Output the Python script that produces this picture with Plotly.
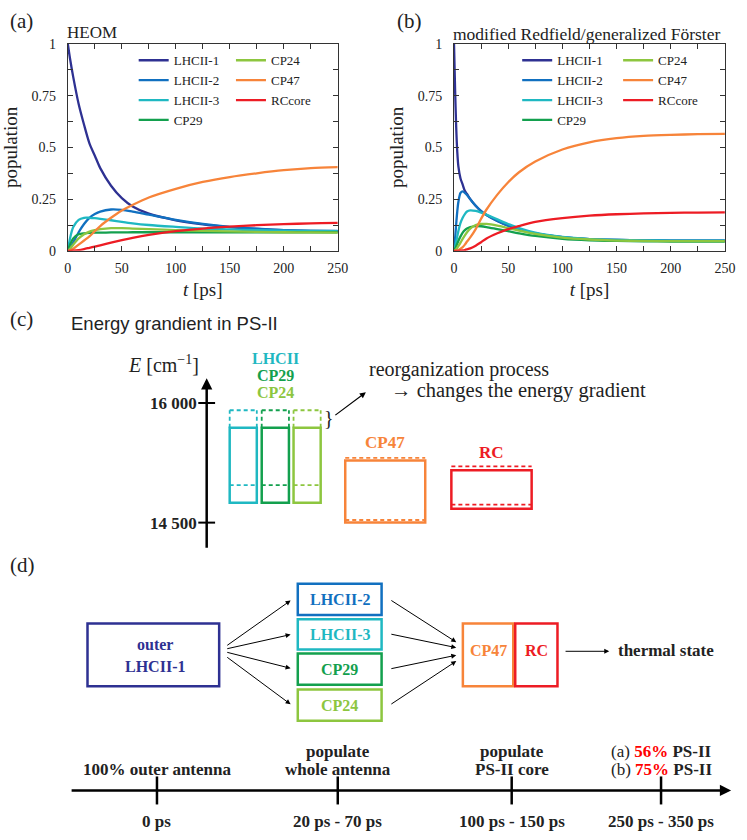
import plotly.graph_objects as go

W, H = 747, 840
SERIF = "Liberation Serif"
SANS = "Liberation Sans"

# ---- data: populations (a) HEOM and (b) modified Redfield / generalized Foerster
SERIES = ["LHCII-1", "LHCII-2", "LHCII-3", "CP29", "CP24", "CP47", "RCcore"]
COLORS = ["#2e3192", "#1170c0", "#1fb8c2", "#13a04e", "#8dc63f", "#f7843a", "#ed1c24"]

T_A = [0, 2, 5, 10, 15, 20, 25, 30, 40, 50, 60, 75, 100, 125, 150, 175, 200, 225, 250]
POP_A = {
    "LHCII-1": [1.0, 0.93, 0.84, 0.71, 0.61, 0.52, 0.46, 0.40, 0.315, 0.255, 0.215, 0.18, 0.148, 0.128, 0.115, 0.106, 0.10, 0.097, 0.095],
    "LHCII-2": [0, 0.01, 0.04, 0.09, 0.13, 0.16, 0.178, 0.19, 0.20, 0.198, 0.19, 0.175, 0.15, 0.13, 0.116, 0.107, 0.10, 0.097, 0.096],
    "LHCII-3": [0, 0.06, 0.115, 0.15, 0.16, 0.16, 0.158, 0.155, 0.148, 0.14, 0.133, 0.125, 0.116, 0.108, 0.104, 0.10, 0.098, 0.096, 0.095],
    "CP29":    [0, 0.03, 0.06, 0.08, 0.085, 0.087, 0.088, 0.088, 0.089, 0.089, 0.09, 0.09, 0.09, 0.09, 0.09, 0.09, 0.09, 0.09, 0.09],
    "CP24":    [0, 0.01, 0.03, 0.06, 0.08, 0.093, 0.10, 0.105, 0.11, 0.11, 0.108, 0.105, 0.10, 0.097, 0.094, 0.092, 0.09, 0.089, 0.088],
    "CP47":    [0, 0.002, 0.01, 0.03, 0.05, 0.07, 0.095, 0.12, 0.16, 0.195, 0.222, 0.258, 0.30, 0.333, 0.357, 0.375, 0.39, 0.40, 0.405],
    "RCcore":  [0, 0.0, 0.001, 0.004, 0.009, 0.015, 0.021, 0.027, 0.04, 0.052, 0.063, 0.077, 0.095, 0.108, 0.117, 0.124, 0.129, 0.133, 0.135],
}

T_B = [0, 1, 2, 3, 4, 6, 8, 10, 12, 15, 20, 25, 30, 40, 50, 60, 75, 100, 125, 150, 175, 200, 225, 250]
POP_B = {
    "LHCII-1": [1.0, 0.78, 0.60, 0.48, 0.41, 0.35, 0.32, 0.29, 0.275, 0.25, 0.218, 0.192, 0.173, 0.145, 0.122, 0.104, 0.085, 0.066, 0.057, 0.053, 0.051, 0.05, 0.05, 0.05],
    "LHCII-2": [0, 0.06, 0.13, 0.19, 0.235, 0.28, 0.288, 0.28, 0.27, 0.25, 0.218, 0.192, 0.173, 0.145, 0.122, 0.104, 0.085, 0.066, 0.057, 0.053, 0.051, 0.05, 0.05, 0.05],
    "LHCII-3": [0, 0.02, 0.045, 0.07, 0.095, 0.135, 0.16, 0.178, 0.19, 0.196, 0.193, 0.185, 0.175, 0.152, 0.13, 0.11, 0.088, 0.067, 0.057, 0.053, 0.051, 0.05, 0.05, 0.05],
    "CP29":    [0, 0.01, 0.022, 0.035, 0.048, 0.07, 0.088, 0.10, 0.108, 0.115, 0.12, 0.119, 0.115, 0.105, 0.095, 0.085, 0.072, 0.058, 0.051, 0.048, 0.046, 0.045, 0.045, 0.045],
    "CP24":    [0, 0.003, 0.008, 0.015, 0.023, 0.04, 0.058, 0.075, 0.09, 0.108, 0.125, 0.13, 0.13, 0.122, 0.11, 0.098, 0.082, 0.064, 0.055, 0.05, 0.048, 0.047, 0.047, 0.047],
    "CP47":    [0, 0, 0.001, 0.002, 0.004, 0.01, 0.018, 0.03, 0.045, 0.065, 0.105, 0.155, 0.2, 0.272, 0.332, 0.38, 0.432, 0.49, 0.525, 0.545, 0.556, 0.561, 0.564, 0.566],
    "RCcore":  [0, 0, 0, 0, 0, 0.001, 0.002, 0.004, 0.007, 0.012, 0.025, 0.042, 0.06, 0.085, 0.105, 0.12, 0.14, 0.158, 0.17, 0.177, 0.181, 0.184, 0.185, 0.186],
}

# ---- data: energy gradient (c), cm^-1
E_NAMES = ["LHCII", "CP29", "CP24", "CP47", "RC"]
E_COLORS = ["#1fb8c2", "#13a04e", "#8dc63f", "#f7843a", "#ed1c24"]
E_LOW = [14750, 14750, 14750, 14500, 14675]
E_HIGH = [15690, 15690, 15690, 15280, 15157]
E_SHIFT_HIGH = [15910, 15910, 15910, 15313, 15206]
E_SHIFT_LOW = [14970, 14970, 14970, 14533, 14725]
E_TICKS = [14500, 16000]
E_TICKTEXT = ["14 500", "16 000"]

# ---- data: scheme (d)
D_OUTER = ["outer", "LHCII-1"]
D_MID = ["LHCII-2", "LHCII-3", "CP29", "CP24"]
D_MID_COLORS = ["#1170c0", "#1fb8c2", "#13a04e", "#8dc63f"]
D_CORE = ["CP47", "RC"]
D_CORE_COLORS = ["#f7843a", "#ed1c24"]
STAGE_TOP = [["", "100% outer antenna"], ["populate", "whole antenna"],
             ["populate", "PS-II core"], None]
STAGE_TIMES = ["0 ps", "20 ps - 70 ps", "100 ps - 150 ps", "250 ps - 350 ps"]
SHARE_LABELS = ["(a)", "(b)"]
SHARE_PCT = [56, 75]


def fx(px):
    return px / W


def fy(py):
    return 1 - py / H


fig = go.Figure()

# population curves
for i, name in enumerate(SERIES):
    fig.add_trace(go.Scatter(
        x=T_A, y=POP_A[name], name=name, mode="lines",
        line=dict(color=COLORS[i], width=2.3, shape="spline", smoothing=0.8),
        legend="legend" if i < 4 else "legend2", xaxis="x", yaxis="y"))
for i, name in enumerate(SERIES):
    fig.add_trace(go.Scatter(
        x=T_B, y=POP_B[name], name=name, mode="lines",
        line=dict(color=COLORS[i], width=2.3, shape="spline", smoothing=0.8),
        legend="legend3" if i < 4 else "legend4", xaxis="x2", yaxis="y2"))

# energy axis tick crosses
AXIS_X = 207.3
fig.add_trace(go.Scatter(
    x=[AXIS_X] * len(E_TICKS), y=E_TICKS, mode="markers", showlegend=False,
    marker=dict(symbol="line-ew", size=12, line=dict(color="black", width=2)),
    xaxis="x3", yaxis="y3", hoverinfo="skip"))

# timeline ticks
TL_Y = 797.7
TL_X = [156.7, 340.7, 517.7, 669.7]
fig.add_trace(go.Scatter(
    x=TL_X, y=[TL_Y] * len(TL_X), mode="markers", showlegend=False,
    marker=dict(symbol="line-ns", size=20, line=dict(color="black", width=2.5)),
    xaxis="x4", yaxis="y4", hoverinfo="skip"))

shapes = []
ann = []


def text(x, y, s, size=16, color="#222", xanchor="center", family=SERIF):
    ann.append(dict(x=x, y=y, xref="x4", yref="y4", text=s, showarrow=False,
                    xanchor=xanchor, yanchor="middle",
                    font=dict(family=family, size=size, color=color)))


def arrow(x0, y0, x1, y1, width=1.0, head=2, size=1.0):
    ann.append(dict(x=x1, y=y1, ax=x0, ay=y0, xref="x4", yref="y4",
                    axref="x4", ayref="y4", text="", showarrow=True,
                    arrowhead=head, arrowsize=size, arrowwidth=width,
                    arrowcolor="black"))


# ---- panels (a), (b) texts
text(5, 14, "(a)", 21, xanchor="left")
text(399, 14, "(b)", 21, xanchor="left")
text(63, 26, "HEOM", 17, xanchor="left")
text(456, 27, "modified Redfield/generalized Förster", 17.5, xanchor="left")

# ---- panel (c)
text(5, 318, "(c)", 21, xanchor="left")
text(66.7, 322, "Energy grandient in PS-II", 18.5, xanchor="left", family=SANS)
text(201.7, 363, "<i>E</i> [cm<sup>−1</sup>]", 20, xanchor="right")
arrow(AXIS_X, 552, AXIS_X, 378, width=2.5, head=2, size=0.9)

E_COLS = [(230.7, 258.3), (263.3, 291.0), (295.7, 323.3), (348.3, 429.7), (456.3, 538.0)]
for i, name in enumerate(E_NAMES):
    x0, x1 = E_COLS[i]
    c = E_COLORS[i]
    shapes.append(dict(type="rect", xref="x3", yref="y3", x0=x0, x1=x1,
                       y0=E_LOW[i], y1=E_HIGH[i], line=dict(color=c, width=2.5)))
    dash = dict(color=c, width=1.8, dash="4px,3px")
    shapes.append(dict(type="line", xref="x3", yref="y3", x0=x0, x1=x1,
                       y0=E_SHIFT_HIGH[i], y1=E_SHIFT_HIGH[i], line=dash))
    shapes.append(dict(type="line", xref="x3", yref="y3", x0=x0, x1=x1,
                       y0=E_SHIFT_LOW[i], y1=E_SHIFT_LOW[i], line=dash))
    if i < 3:
        for xx in (x0, x1):
            shapes.append(dict(type="line", xref="x3", yref="y3", x0=xx, x1=xx,
                               y0=E_HIGH[i], y1=E_SHIFT_HIGH[i], line=dash))
for i, yy in enumerate([358.3, 375.7, 392.3]):
    text(277.7, yy, "<b>%s</b>" % E_NAMES[i], 16, E_COLORS[i])
text(389, 443.3, "<b>CP47</b>", 17, E_COLORS[3])
text(497, 454, "<b>RC</b>", 17, E_COLORS[4])
text(331.7, 418.3, "}", 20, "#222")
arrow(336.7, 416.7, 369.3, 392.3, width=1.2, head=2, size=1.0)
text(370, 369, "reorganization process", 20, xanchor="left")
text(392.7, 390, "→ changes the energy gradient", 20.5, xanchor="left")

# ---- panel (d)
text(5, 568, "(d)", 21, xanchor="left")
shapes.append(dict(type="rect", xref="x4", yref="y4", x0=86, x1=220, y0=627.7,
                   y1=691.7, line=dict(color=COLORS[0], width=2.5)))
text(154.3, 649, "<b>%s</b>" % D_OUTER[0], 16, COLORS[0])
text(154.3, 671, "<b>%s</b>" % D_OUTER[1], 16, COLORS[0])

MID_Y = [(587.3, 619.0), (623.3, 654.3), (658.3, 690.0), (695.0, 726.7)]
for i, name in enumerate(D_MID):
    y0, y1 = MID_Y[i]
    shapes.append(dict(type="rect", xref="x4", yref="y4", x0=300, x1=385.3,
                       y0=y0, y1=y1, line=dict(color=D_MID_COLORS[i], width=2.5)))
    text(342.7, (y0 + y1) / 2, "<b>%s</b>" % name, 16, D_MID_COLORS[i])

CORE_X = [(468.0, 519.3), (521.3, 564.3)]
for i, name in enumerate(D_CORE):
    x0, x1 = CORE_X[i]
    shapes.append(dict(type="rect", xref="x4", yref="y4", x0=x0, x1=x1,
                       y0=627.7, y1=691.7, line=dict(color=D_CORE_COLORS[i], width=2.5)))
    text((x0 + x1) / 2, 655, "<b>%s</b>" % name, 16, D_CORE_COLORS[i])

for (ys, ye) in [(651, 604.3), (653.7, 639), (656.7, 673.3), (661, 710)]:
    arrow(226.7, ys, 292.7, ye)
for (ys, ye) in [(603.3, 646.7), (638.3, 652.3), (674, 660), (710.7, 666)]:
    arrow(393.7, ys, 461.3, ye)
arrow(571, 656, 617, 656)
text(624.3, 655, "<b>thermal state</b>", 17, xanchor="left")

# timeline
arrow(68.3, TL_Y, 741, TL_Y, width=2.5, head=2, size=0.9)
for i, lines in enumerate(STAGE_TOP):
    if lines is None:
        lines = ["%s <b><span style='color:#ff0000'>%d%%</span> PS-II</b>"
                 % (SHARE_LABELS[k], SHARE_PCT[k]) for k in range(2)]
    else:
        lines = ["<b>%s</b>" % s if s else "" for s in lines]
    for k, s in enumerate(lines):
        if s:
            text(TL_X[i], 758.3 + 17.7 * k, s, 17)
    text(TL_X[i], 829, "<b>%s</b>" % STAGE_TIMES[i], 17)

fig.update_layout(shapes=shapes, annotations=ann)

# ---- axes
ax_common = dict(showline=True, linecolor="#333", linewidth=1, mirror="ticks",
                 ticks="inside", ticklen=5, tickcolor="#333", showgrid=False,
                 zeroline=False, tickfont=dict(family=SERIF, size=14, color="#222"))
xa = dict(ax_common, range=[0, 250], tickvals=[0, 50, 100, 150, 200, 250],
          ticklabelstandoff=4,
          minor=dict(ticks="inside", ticklen=5, dtick=25, tickcolor="#333"),
          title=dict(text="<i>t</i> [ps]", font=dict(family=SERIF, size=19, color="#222"),
                     standoff=8))
ya = dict(ax_common, range=[0, 1], tickvals=[0, 0.25, 0.5, 0.75, 1],
          ticktext=["0", "0.25", "0.5", "0.75", "1"], ticklabelstandoff=8,
          minor=dict(ticks="inside", ticklen=5, dtick=0.125, tickcolor="#333"),
          title=dict(text="population", font=dict(family=SERIF, size=19, color="#222"),
                     standoff=9))

Y_DOM = [fy(248.3), fy(37.7)]


def energy_at(py):
    return 16000 - (py - 403.3) * 1500 / (525.0 - 403.3)


leg = dict(yanchor="top", xanchor="left", y=fy(39), bgcolor="rgba(0,0,0,0)",
           font=dict(family=SERIF, size=13, color="#222"), tracegroupgap=0,
           itemwidth=30)

fig.update_layout(
    width=W, height=H, autosize=False,
    margin=dict(l=0, r=0, t=0, b=0),
    paper_bgcolor="white", plot_bgcolor="rgba(0,0,0,0)",
    font=dict(family=SERIF, color="#222"),
    xaxis=dict(xa, domain=[fx(66), fx(340.7)], anchor="y"),
    yaxis=dict(ya, domain=Y_DOM, anchor="x"),
    xaxis2=dict(xa, domain=[fx(459), fx(734.7)], anchor="y2"),
    yaxis2=dict(ya, domain=Y_DOM, anchor="x2"),
    xaxis3=dict(domain=[0, 1], range=[0, W], visible=False, anchor="y3"),
    yaxis3=dict(domain=[fy(560), fy(370)], range=[energy_at(560), energy_at(370)],
                anchor="free", position=fx(AXIS_X), showline=False, showgrid=False,
                zeroline=False, tickvals=E_TICKS, ticktext=E_TICKTEXT, ticks="",
                ticklabelstandoff=10,
                tickfont=dict(family=SERIF, size=17, color="#222", weight="bold")),
    xaxis4=dict(domain=[0, 1], range=[0, W], visible=False, anchor="y4"),
    yaxis4=dict(domain=[0, 1], range=[H, 0], visible=False, anchor="x4"),
    legend=dict(leg, x=fx(133)),
    legend2=dict(leg, x=fx(232)),
    legend3=dict(leg, x=fx(523.3)),
    legend4=dict(leg, x=fx(626)),
)

# the page body has a default 8px margin; drop it so the figure fills the window
fig.write_html("out.html", config={"displayModeBar": False},
               post_script="document.body.style.margin='0';"
                           "document.documentElement.style.overflow='hidden';")
